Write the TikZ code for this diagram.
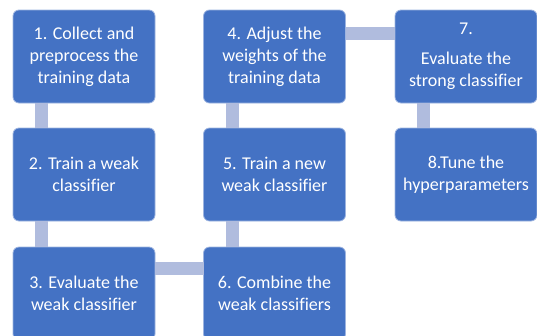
\documentclass[tikz,border=0pt]{standalone}
\usepackage{fontspec}
\setmainfont{Carlito}[Ligatures=NoCommon]
\definecolor{boxblue}{HTML}{4472C4}
\definecolor{boxedge}{HTML}{9DB4E0}
\definecolor{connblue}{HTML}{B0BCDE}
\begin{document}
\begin{tikzpicture}[x=1pt,y=-1pt,
  box/.style={draw=boxedge, line width=0.8pt, fill=boxblue, rounded corners=6pt,
    minimum width=142pt, minimum height=93pt, inner sep=0pt, outer sep=0pt,
    align=center, text=white, font=\fontsize{18}{22}\selectfont},
  conn/.style={draw=connblue, line width=13pt}]
\useasboundingbox (0,0) rectangle (537,335);
\clip (0,0) rectangle (537,335);
\node[box] (b1) at (84,56.5) {1. Collect and\\preprocess the\\training data};
\node[box] (b2) at (84,174.5) {2. Train a weak\\classifier};
\node[box] (b3) at (84,293.5) {3. Evaluate the\\weak classifier};
\node[box] (b4) at (274.5,56.5) {4. Adjust the\\weights of the\\training data};
\node[box] (b5) at (274.5,174.5) {5. Train a new\\weak classifier};
\node[box] (b6) at (274.5,293.5) {6. Combine the\\weak classifiers};
\node[box] (b7) at (466,56.5) {7.\\[8pt]Evaluate the\\strong classifier};
\node[box] (b8) at (466,174.5) {8.Tune the\\hyperparameters};
\draw[conn] ([xshift=28.5pt]b1.south west) -- ([xshift=28.5pt]b2.north west);
\draw[conn] ([xshift=28.5pt]b2.south west) -- ([xshift=28.5pt]b3.north west);
\draw[conn] ([yshift=-21.5pt]b3.north east) -- ([yshift=-21.5pt]b6.north west);
\draw[conn] ([xshift=28.5pt]b6.north west) -- ([xshift=28.5pt]b5.south west);
\draw[conn] ([xshift=28.5pt]b5.north west) -- ([xshift=28.5pt]b4.south west);
\draw[conn] ([yshift=-23pt]b4.north east) -- ([yshift=-23pt]b7.north west);
\draw[conn] ([xshift=28.5pt]b7.south west) -- ([xshift=28.5pt]b8.north west);
\end{tikzpicture}
\end{document}
